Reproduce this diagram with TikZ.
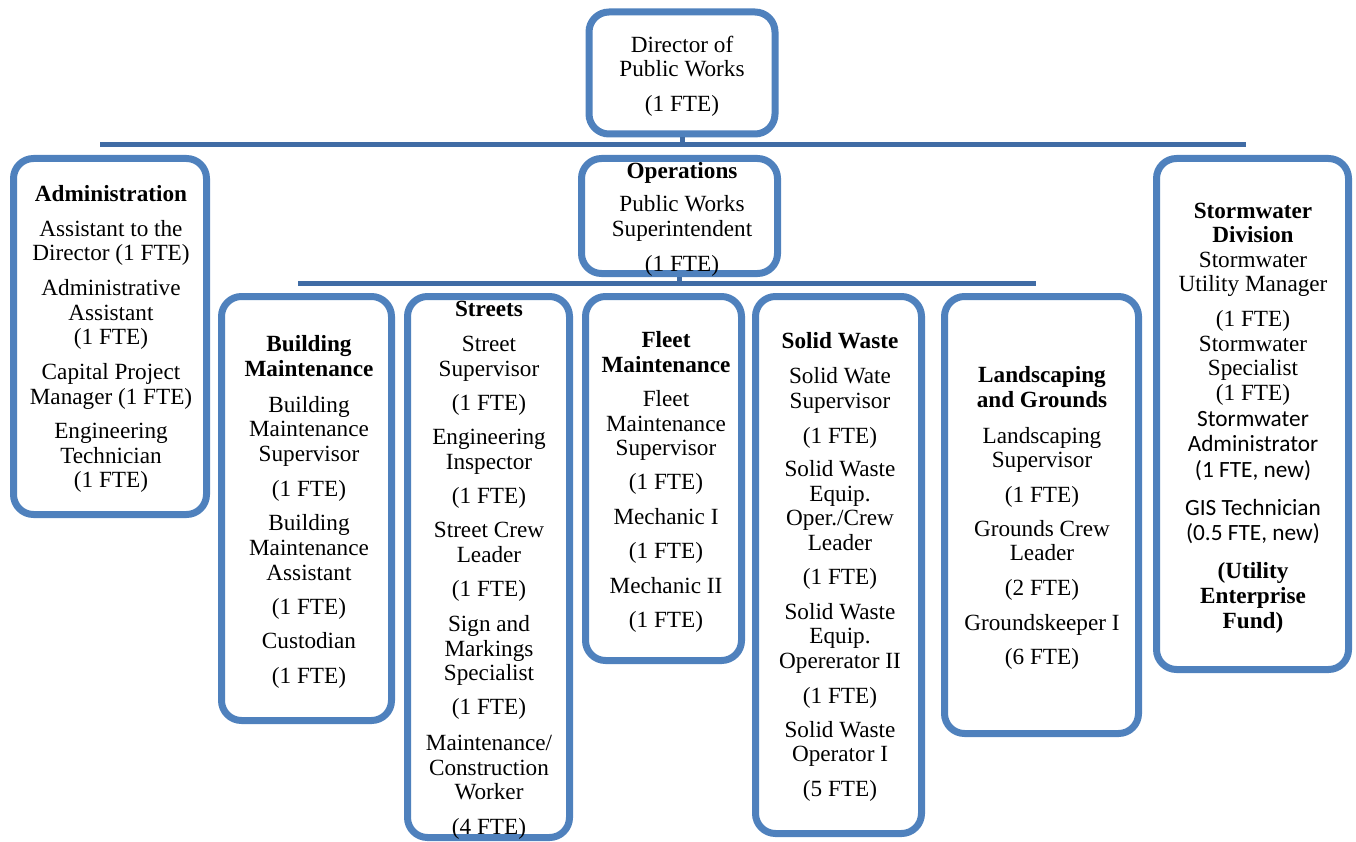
\documentclass[tikz,border=0pt]{standalone}
\usepackage{fontspec}
\setmainfont{Liberation Serif}
\newfontfamily\calib{Carlito}
\definecolor{boxblue}{RGB}{79,129,189}
\definecolor{barblue}{RGB}{64,108,165}
\begin{document}
\begin{tikzpicture}[x=1pt,y=-1pt,
  boxst/.style={draw=boxblue, fill=white, line width=7pt, rounded corners=20pt, inner sep=0pt},
  txt/.style={anchor=north, inner sep=0pt, align=center, font=\fontsize{23.2}{24.6}\selectfont},
  ctxt/.style={anchor=north, inner sep=0pt, align=center, font=\calib\fontsize{23.3}{25.6}\selectfont},
  bar/.style={draw=barblue, line width=5pt}]
\useasboundingbox (0,0) rectangle (1356,842);
% connectors
\coordinate (t1l) at (100,145);
\coordinate (t1r) at (1246,145);
\coordinate (t2l) at (298,283);
\coordinate (t2r) at (1036,283);
\draw[bar] (t1l) -- (t1r);
\draw[bar] (t2l) -- (t2r);
% boxes
\node[boxst, minimum width=186pt, minimum height=122pt] (dir) at (682,73) {};
\node[boxst, minimum width=193pt, minimum height=356pt] (admin) at (110,336.5) {};
\node[boxst, minimum width=196pt, minimum height=115pt] (ops) at (679.5,216) {};
\node[boxst, minimum width=192pt, minimum height=511pt] (storm) at (1252.5,414) {};
\node[boxst, minimum width=170pt, minimum height=424pt] (bldg) at (306.5,508.5) {};
\node[boxst, minimum width=162pt, minimum height=541pt] (streets) at (488.5,567) {};
\node[boxst, minimum width=156pt, minimum height=364pt] (fleet) at (663.5,478.5) {};
\node[boxst, minimum width=166pt, minimum height=537pt] (solid) at (838.5,565) {};
\node[boxst, minimum width=194pt, minimum height=437pt] (land) at (1041.5,515) {};
\draw[bar] (dir.south) -- (dir.south |- t1l);
\draw[bar] (ops.south) -- (ops.south |- t2l);
% texts
\node[txt] (dirtx) at (682,35.5) {Director of\\Public Works\\[10pt](1 FTE)};
\node[txt] (admintx) at (111,185.5) {\textbf{Administration}\\[10pt]Assistant to the\\Director (1 FTE)\\[10pt]Administrative\\Assistant\\(1 FTE)\\[10pt]Capital Project\\Manager (1 FTE)\\[10pt]Engineering\\Technician\\(1 FTE)};
\node[txt] (opstx) at (682,162.5) {\textbf{Operations}\\[8.5pt]Public Works\\Superintendent\\[10pt](1 FTE)};
\node[txt] (stormA) at (1253,202.5) {\textbf{Stormwater}\\\textbf{Division}\\Stormwater\\Utility Manager\\[10pt](1 FTE)\\Stormwater\\Specialist\\(1 FTE)};
\node[ctxt] (stormB) at (1253,411) {Stormwater\\Administrator\\(1 FTE, new)\\[12pt]GIS Technician\\(0.5 FTE, new)};
\node[txt] (stormC) at (1253,562.5) {\textbf{(Utility}\\\textbf{Enterprise}\\\textbf{Fund)}};
\node[txt] (bldgtx) at (309,335.5) {\textbf{Building}\\\textbf{Maintenance}\\[11pt]Building\\Maintenance\\Supervisor\\[11pt](1 FTE)\\[9.5pt]Building\\Maintenance\\Assistant\\[9.5pt](1 FTE)\\[10pt]Custodian\\[10pt](1 FTE)};
\node[txt] (streetstx) at (489,300.5) {\textbf{Streets}\\[11pt]Street\\Supervisor\\[10pt](1 FTE)\\[9.5pt]Engineering\\Inspector\\[9.5pt](1 FTE)\\[9.5pt]Street Crew\\Leader\\[10pt](1 FTE)\\[10pt]Sign and\\Markings\\Specialist\\[9.5pt](1 FTE)\\[11pt]Maintenance/\\Construction\\Worker\\[10pt](4 FTE)};
\node[txt] (fleettx) at (666,331.5) {\textbf{Fleet}\\\textbf{Maintenance}\\[9.5pt]Fleet\\Maintenance\\Supervisor\\[9.5pt](1 FTE)\\[10pt]Mechanic I\\[9.5pt](1 FTE)\\[10pt]Mechanic II\\[9.5pt](1 FTE)};
\node[txt] (solidtx) at (840,332.5) {\textbf{Solid Waste}\\[10pt]Solid Wate\\Supervisor\\[11pt](1 FTE)\\[8.5pt]Solid Waste\\Equip.\\Oper./Crew\\Leader\\[9.5pt](1 FTE)\\[10pt]Solid Waste\\Equip.\\Opererator II\\[10pt](1 FTE)\\[9.5pt]Solid Waste\\Operator I\\[10pt](5 FTE)};
\node[txt] (landtx) at (1042,366.5) {\textbf{Landscaping}\\\textbf{and Grounds}\\[11pt]Landscaping\\Supervisor\\[10pt](1 FTE)\\[9.5pt]Grounds Crew\\Leader\\[10pt](2 FTE)\\[10pt]Groundskeeper I\\[10pt](6 FTE)};
\end{tikzpicture}
\end{document}
